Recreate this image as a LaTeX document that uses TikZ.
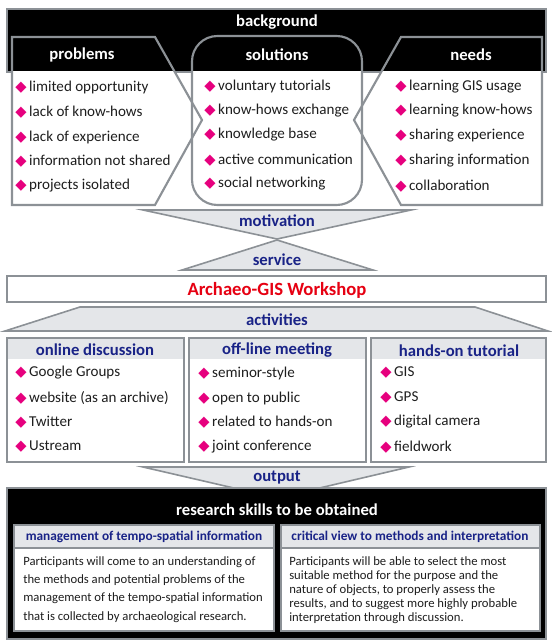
\documentclass[tikz,border=0pt]{standalone}
\usepackage{fontspec}
\setmainfont{Carlito}
\newfontfamily\diafont{DejaVu Sans}
\usetikzlibrary{positioning}

\definecolor{navy}{RGB}{25,35,135}
\definecolor{bulletpink}{RGB}{230,0,126}
\definecolor{wsred}{RGB}{230,0,18}
\definecolor{framegray}{RGB}{140,145,150}
\definecolor{fillgray}{RGB}{228,230,233}
\definecolor{textgray}{RGB}{30,30,30}

\newcommand{\bul}{{\diafont\fontsize{11}{11}\selectfont\color{bulletpink}\char"25C6}\hspace{2pt}}

\begin{document}
\begin{tikzpicture}[
x=0.75pt,y=-0.75pt,
frame/.style={draw=framegray,line width=1.6pt},
flow/.style={fill=fillgray,draw=framegray,line width=1.2pt},
hdr/.style={font=\fontsize{12.5}{14}\selectfont\bfseries,text=white,inner sep=1pt},
flowlabel/.style={font=\fontsize{12.5}{14}\selectfont\bfseries,text=navy,inner sep=1pt},
boxhdr/.style={font=\fontsize{12.5}{14}\selectfont\bfseries,text=navy,inner sep=1pt},
subhdr/.style={font=\fontsize{10}{12}\selectfont\bfseries,text=navy,inner sep=1pt},
item/.style={anchor=west,font=\fontsize{11.3}{13}\selectfont,text=textgray,inner sep=0pt},
body/.style={anchor=north west,align=left,text=textgray,inner sep=0pt}]

\useasboundingbox (0,0) rectangle (552,644);

% background
\filldraw[frame,fill=black] (7,9) rectangle (546,72);
\node[hdr] (bg) at (277,22) {background};

\begin{scope}
\clip (0,71.6) rectangle (552,644);
\fill[white] (12,37) -- (155,37) -- (202,120) -- (155,205) -- (12,205) -- cycle;
\fill[white,rounded corners=19pt] (192,36) rectangle (362,205);
\fill[white] (401,37) -- (542,37) -- (542,205) -- (401,205) -- (354,120) -- cycle;
\end{scope}
\draw[frame,rounded corners=19pt] (192,36) rectangle (362,205);
\draw[frame] (12,37) -- (155,37) -- (202,120) -- (155,205) -- (12,205) -- cycle;
\draw[frame] (401,37) -- (542,37) -- (542,205) -- (401,205) -- (354,120) -- cycle;

\node[hdr] (prob) at (82,55) {problems};
\node[hdr] (sol) at (277,55) {solutions};
\node[hdr] (need) at (471,55) {needs};

\node[item] (p1) at (15,87) {\bul limited opportunity};
\node[item] (p2) at (15,112) {\bul lack of know-hows};
\node[item] (p3) at (15,137) {\bul lack of experience};
\node[item] (p4) at (15,161) {\bul information not shared};
\node[item] (p5) at (15,186) {\bul projects isolated};

\node[item] (s1) at (204,86) {\bul voluntary tutorials};
\node[item] (s2) at (204,111) {\bul know-hows exchange};
\node[item] (s3) at (204,135) {\bul knowledge base};
\node[item] (s4) at (204,160) {\bul active communication};
\node[item] (s5) at (204,184) {\bul social networking};

\node[item] (n1) at (395,87) {\bul learning GIS usage};
\node[item] (n2) at (395,111) {\bul learning know-hows};
\node[item] (n3) at (395,136) {\bul sharing experience};
\node[item] (n4) at (395,161) {\bul sharing information};
\node[item] (n5) at (395,186) {\bul collaboration};

% motivation / service
\filldraw[flow] (143,210) -- (411,210) -- (277,239) -- cycle;
\node[flowlabel] (mot) at (277,221) {motivation};
\filldraw[flow] (277,240) -- (373,270) -- (182,270) -- cycle;
\node[flowlabel] (serv) at (277,260) {service};

\filldraw[frame,fill=white] (7,276) rectangle (546,302);
\node[font=\fontsize{14}{16}\selectfont\bfseries,text=wsred] (ws) at (277,290) {Archaeo-GIS Workshop};

% activities
\filldraw[flow] (80,307) -- (475,307) -- (548,331) -- (5,331) -- cycle;
\node[flowlabel] (act) at (277,320) {activities};

\filldraw[frame,fill=white] (7,338) rectangle (184,462);
\filldraw[frame,fill=white] (189,338) rectangle (366,462);
\filldraw[frame,fill=white] (371,338) rectangle (546,462);
\fill[fillgray] (8,339) rectangle (183,359);
\fill[fillgray] (190,339) rectangle (365,359);
\fill[fillgray] (372,339) rectangle (545,359);

\node[boxhdr] (onl) at (95,350) {online discussion};
\node[boxhdr] (off) at (277,350) {off-line meeting};
\node[boxhdr] (hand) at (459,351) {hands-on tutorial};

\node[item] (o1) at (15,373) {\bul Google Groups};
\node[item] (o2) at (15,398) {\bul website (as an archive)};
\node[item] (o3) at (15,422) {\bul Twitter};
\node[item] (o4) at (15,447) {\bul Ustream};

\node[item] (m1) at (198,373) {\bul seminor-style};
\node[item] (m2) at (198,398) {\bul open to public};
\node[item] (m3) at (198,422) {\bul related to hands-on};
\node[item] (m4) at (198,447) {\bul joint conference};

\node[item] (h1) at (380,373) {\bul GIS};
\node[item] (h2) at (380,398) {\bul GPS};
\node[item] (h3) at (380,422) {\bul digital camera};
\node[item] (h4) at (380,447) {\bul fieldwork};

% output
\filldraw[flow] (143,467) -- (409,467) -- (277,498) -- cycle;
\node[flowlabel] (outp) at (277,478) {output};

\filldraw[frame,fill=black] (7,488) rectangle (546,639);
\node[hdr] (rs) at (277,510) {research skills to be obtained};

\filldraw[frame,fill=white] (14,525) rectangle (274,631);
\filldraw[frame,fill=white] (281,525) rectangle (540,631);
\fill[fillgray] (15,526) rectangle (273,547);
\fill[fillgray] (282,526) rectangle (539,547);
\draw[framegray,line width=0.8pt] (15,548) -- (273,548);
\draw[framegray,line width=0.8pt] (282,548) -- (539,548);

\node[subhdr] (mgmt) at (144,537) {management of tempo-spatial information};
\node[subhdr] (crit) at (410,537) {critical view to methods and interpretation};

\node[body,font=\fontsize{9.5}{13.8}\selectfont] (mgmttxt) at (23,556)
{Participants will come to an understanding of\\
the methods and potential problems of the\\
management of the tempo-spatial information\\
that is collected by archaeological research.};
\node[body,font=\fontsize{9.5}{10.5}\selectfont] (crittxt) at (289,556)
{Participants will be able to select the most\\
suitable method for the purpose and the\\
nature of objects, to properly assess the\\
results, and to suggest more highly probable\\
interpretation through discussion.};

\end{tikzpicture}
\end{document}
